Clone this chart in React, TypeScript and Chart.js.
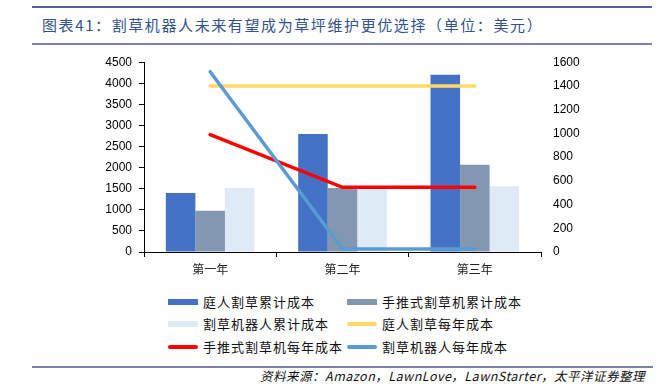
import React, { useEffect, useRef } from "react";
import { Chart, registerables } from "chart.js";

Chart.register(...registerables);

const TITLE = "图表41：割草机器人未来有望成为草坪维护更优选择（单位：美元）";
const SOURCE = "资料来源：Amazon，LawnLove，LawnStarter，太平洋证券整理";

const categories = ["第一年", "第二年", "第三年"];

// left axis (cumulative cost)
const laborCumulative = [1400, 2800, 4200];
const pushMowerCumulative = [980, 1520, 2070];
const robotCumulative = [1520, 1540, 1560];

// right axis (annual cost)
const laborAnnual = [1400, 1400, 1400];
const pushMowerAnnual = [990, 545, 545];
const robotAnnual = [1520, 25, 25];

const leftTicks = { min: 0, max: 4500, step: 500 };
const rightTicks = { min: 0, max: 1600, step: 200 };

const seriesNames = [
  "庭人割草累计成本",
  "手推式割草机累计成本",
  "割草机器人累计成本",
  "庭人割草每年成本",
  "手推式割草机每年成本",
  "割草机器人每年成本",
];

const colors = ["#4472C4", "#8497B0", "#DEEBF7", "#FFD966", "#FF0000", "#5B9BD5"];

const NUM_FONT = "'Liberation Sans', Arial, sans-serif";
const CJK_FONT = "'Noto Sans CJK SC', sans-serif";

export default function App() {
  const ref = useRef<HTMLCanvasElement | null>(null);

  useEffect(() => {
    if (!ref.current) return;
    const chart = new Chart(ref.current, {
      type: "bar",
      data: {
        labels: categories,
        datasets: [
          { type: "bar", label: seriesNames[0], data: laborCumulative, backgroundColor: colors[0], yAxisID: "y", order: 10 },
          { type: "bar", label: seriesNames[1], data: pushMowerCumulative, backgroundColor: colors[1], yAxisID: "y", order: 10 },
          { type: "bar", label: seriesNames[2], data: robotCumulative, backgroundColor: colors[2], yAxisID: "y", order: 10 },
          { type: "line", label: seriesNames[3], data: laborAnnual, borderColor: colors[3], backgroundColor: colors[3], borderWidth: 3.5, pointRadius: 0, yAxisID: "y1", order: 3, borderCapStyle: "round" },
          { type: "line", label: seriesNames[4], data: pushMowerAnnual, borderColor: colors[4], backgroundColor: colors[4], borderWidth: 3.5, pointRadius: 0, yAxisID: "y1", order: 2, borderCapStyle: "round" },
          { type: "line", label: seriesNames[5], data: robotAnnual, borderColor: colors[5], backgroundColor: colors[5], borderWidth: 3.5, pointRadius: 0, yAxisID: "y1", order: 1, borderCapStyle: "round" },
        ] as any,
      },
      options: {
        responsive: false,
        animation: false,
        layout: { padding: 0 },
        datasets: { bar: { categoryPercentage: 0.67, barPercentage: 1 } } as any,
        plugins: { legend: { display: false }, tooltip: { enabled: false }, title: { display: false } },
        scales: {
          x: {
            grid: { display: true, drawOnChartArea: false, offset: true, tickLength: 5, color: "#000" },
            border: { display: true, color: "#000", width: 1 },
            ticks: { font: { family: CJK_FONT, size: 12 }, color: "#222", padding: 5 },
            afterFit: (s: any) => { s.height = 38; },
          },
          y: {
            position: "left",
            min: leftTicks.min,
            max: leftTicks.max,
            grid: { display: true, drawOnChartArea: false, tickLength: 5, color: "#000" },
            border: { display: true, color: "#000", width: 1 },
            ticks: { stepSize: leftTicks.step, font: { family: NUM_FONT, size: 12 }, color: "#000", padding: 7, callback: (v: any) => String(v) },
            afterFit: (s: any) => { s.width = 144; },
          },
          y1: {
            position: "right",
            min: rightTicks.min,
            max: rightTicks.max,
            grid: { display: true, drawOnChartArea: false, tickLength: 12, color: "rgba(0,0,0,0)" },
            border: { display: false },
            ticks: { stepSize: rightTicks.step, font: { family: NUM_FONT, size: 12 }, color: "#000", padding: 0, callback: (v: any) => String(v) },
            afterFit: (s: any) => { s.width = 125; },
          },
        },
      } as any,
    });
    return () => chart.destroy();
  }, []);

  const legendItems = seriesNames.map((name, i) => ({ name, color: colors[i], isBar: i < 3 }));
  const colX = [168, 347];
  const rowY = [302, 324, 347];

  return (
    <div style={{ position: "absolute", left: 0, top: 0, width: 666, height: 390, background: "#fff", overflow: "hidden" }}>
      <div style={{ position: "absolute", left: 32, top: 6, width: 620, height: 2, background: "#5B5F96" }} />
      <div
        style={{
          position: "absolute",
          left: 42,
          top: 15,
          fontFamily: CJK_FONT,
          fontSize: 15,
          letterSpacing: 1.6,
          color: "#34528C",
          whiteSpace: "nowrap",
          lineHeight: "20px",
        }}
      >
        {TITLE}
      </div>
      <div style={{ position: "absolute", left: 32, top: 43, width: 620, height: 1.5, background: "#7C7FB0" }} />
      <canvas ref={ref} width={666} height={242} style={{ position: "absolute", left: 0, top: 48, width: 666, height: 242 }} />
      {legendItems.map((it, i) => {
        const cx = colX[i % 2];
        const cy = rowY[Math.floor(i / 2)];
        return (
          <React.Fragment key={i}>
            <div
              style={{
                position: "absolute",
                left: cx,
                top: it.isBar ? cy - 3 : cy - 2,
                width: 30,
                height: it.isBar ? 6 : 4,
                borderRadius: it.isBar ? 0 : 2,
                background: it.color,
              }}
            />
            <div
              style={{
                position: "absolute",
                left: cx + 35,
                top: cy - 9,
                fontFamily: CJK_FONT,
                fontSize: 13,
                letterSpacing: 1,
                lineHeight: "18px",
                color: "#111",
                whiteSpace: "nowrap",
              }}
            >
              {it.name}
            </div>
          </React.Fragment>
        );
      })}
      <div style={{ position: "absolute", left: 32, top: 366, width: 621, height: 1.5, background: "#7C7FB0" }} />
      <div
        style={{
          position: "absolute",
          right: 21,
          top: 367,
          fontFamily: CJK_FONT,
          fontSize: 12.5,
          fontStyle: "italic",
          lineHeight: "18px",
          color: "#111",
          whiteSpace: "nowrap",
          letterSpacing: 0.5,
        }}
      >
        {SOURCE}
      </div>
    </div>
  );
}
